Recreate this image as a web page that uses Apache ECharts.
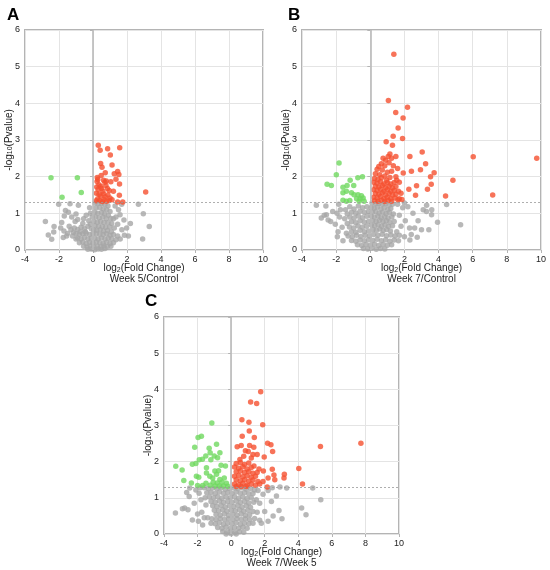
<!DOCTYPE html>
<html>
<head>
<meta charset="utf-8">
<title>Volcano plots</title>
<script src="https://cdn.jsdelivr.net/npm/echarts@6/dist/echarts.min.js"></script>
<style>
	html, body { margin: 0; padding: 0; background: #fff; }
	#chart { width: 550px; height: 570px; }
</style>
</head>
<body>
<div id="chart"></div>
<script>
	// 坐标轴刻度
	var xTicks = [-4, -2, 0, 2, 4, 6, 8, 10];
	var yTicks = [0, 1, 2, 3, 4, 5, 6];
	var pCut = 1.3;   // -log10(0.05)
	var panelLetters = ['A', 'B', 'C'];
	var panelCompare = ['Week 5/Control', 'Week 7/Control', 'Week 7/Week 5'];

	// A: Week 5/Control
	var upA = [[0.31,2.86],[0.42,2.72],[0.86,2.76],[1.57,2.79],[1.02,2.59],[0.45,2.36],[0.53,2.26],[1.12,2.32],
		[0.25,1.98],[0.28,1.92],[0.48,2.03],[0.72,2.11],[1.25,2.08],[1.45,2.14],[1.52,2.06],
		[0.24,1.87],[0.35,1.78],[0.46,1.74],[0.62,1.9],[0.7,1.85],[0.78,1.88],[1.05,1.86],[1.35,1.93],[1.56,1.8],
		[0.22,1.72],[0.3,1.65],[0.5,1.68],[0.58,1.6],[0.76,1.76],[0.85,1.68],[0.95,1.62],[1.2,1.6],
		[0.2,1.55],[0.36,1.52],[0.45,1.47],[0.62,1.53],[0.72,1.45],[0.88,1.5],[1.0,1.42],[1.55,1.49],
		[0.18,1.34],[0.28,1.4],[0.4,1.35],[0.55,1.32],[0.65,1.38],[0.8,1.33],[0.95,1.35],[1.12,1.37],[1.45,1.31],[1.75,1.31],[3.1,1.58]];
	var downA = [[-2.47,1.97],[-0.92,1.97],[-0.69,1.57],[-1.82,1.44]];
	var nsA = [[0.12,1.28],[0.3,1.27],[0.5,1.26],[0.7,1.24],[0.88,1.2],
		[0.18,1.15],[0.4,1.16],[0.6,1.12],[0.8,1.1],[1.0,1.05],
		[0.1,1.03],[0.28,1.0],[0.5,1.02],[0.68,0.98],[0.9,0.95],
		[0.15,0.9],[0.36,0.88],[0.58,0.9],[0.78,0.85],[1.05,0.86],
		[0.05,0.78],[0.25,0.76],[0.45,0.78],[0.65,0.75],[0.88,0.74],[1.1,0.72],
		[0.12,0.66],[0.33,0.65],[0.55,0.64],[0.75,0.62],[0.98,0.63],[1.25,0.6],
		[-0.1,0.58],[0.05,0.55],[0.22,0.54],[0.42,0.55],[0.62,0.52],[0.85,0.53],[1.08,0.5],
		[-1.0,0.45],[-0.8,0.42],[-0.6,0.44],[-0.4,0.46],[-0.2,0.42],[0.0,0.45],[0.2,0.44],[0.4,0.43],[0.6,0.42],[0.8,0.44],[1.0,0.4],[1.2,0.42],[1.45,0.38],
		[-0.9,0.33],[-0.7,0.3],[-0.5,0.34],[-0.3,0.3],[-0.1,0.33],[0.1,0.32],[0.3,0.3],[0.5,0.33],[0.7,0.3],[0.9,0.32],[1.1,0.3],[1.35,0.28],[1.6,0.3],
		[-0.8,0.2],[-0.6,0.22],[-0.4,0.18],[-0.2,0.21],[0.0,0.19],[0.2,0.22],[0.4,0.2],[0.6,0.18],[0.8,0.21],[1.0,0.18],[1.2,0.2],
		[-0.55,0.1],[-0.35,0.08],[-0.15,0.11],[0.05,0.09],[0.25,0.1],[0.45,0.08],[0.65,0.11],[0.85,0.09],[1.05,0.1],
		[-0.3,0.02],[-0.1,0.03],[0.1,0.01],[0.3,0.03],[0.5,0.02],[0.7,0.04],
		[-1.3,0.55],[-1.1,0.6],[-0.9,0.56],[-0.7,0.62],[-0.5,0.58],[-0.3,0.65],[-1.5,0.45],[-1.2,0.38],[-0.6,0.72],[-0.25,0.8],[-0.4,0.95],[-0.15,1.0],[-1.05,0.78],[-1.4,0.65],[-1.25,0.9],[-0.9,0.83],
		[-0.15,0.7],[-0.45,0.5],[-0.75,0.5],[-1.0,0.3],[-0.05,0.9],[-0.2,1.15],[-0.55,0.85],[-1.15,0.48],
		[-2.8,0.78],[-2.63,0.41],[-2.43,0.29],[-2.31,0.49],[-2.29,0.64],[-2.02,1.25],[-1.84,0.75],[-1.69,0.93],[-1.62,1.08],[-1.35,1.26],[-1.45,1.03],[-0.86,1.22],[-1.0,0.98],[-1.75,0.34],[-1.71,0.52],[-1.55,0.38],[-1.9,0.6],
		[2.67,1.25],[2.96,0.99],[3.31,0.64],[2.92,0.3],[2.08,0.38],[1.98,0.6],[1.82,0.82],[1.59,0.96],[1.69,1.25],[1.5,1.1],[1.35,0.9],[1.45,0.7],[1.7,0.55],[1.3,1.2],[2.2,0.72],[1.85,0.4],[1.2,0.85]];

	// B: Week 7/Control
	var upB = [[1.38,5.34],[1.06,4.08],[2.18,3.89],[1.49,3.75],[1.92,3.6],[1.63,3.33],[1.34,3.1],[1.89,3.04],[0.93,2.95],[1.3,2.86],
		[3.04,2.67],[2.32,2.55],[6.03,2.54],[9.75,2.5],[3.24,2.35],[2.41,2.15],[2.94,2.19],[3.74,2.11],[3.53,2.0],[1.93,2.1],
		[4.84,1.9],[3.57,1.79],[2.71,1.75],[2.26,1.66],[3.35,1.66],[2.65,1.49],[4.41,1.47],[7.17,1.5],[1.8,1.55],[1.7,1.4],[1.62,1.37],[1.85,1.38],
		[1.15,2.62],[1.05,2.55],[0.75,2.5],[0.9,2.45],[1.25,2.5],[1.5,2.55],[0.65,2.35],[0.85,2.3],[1.1,2.38],[1.35,2.3],[0.5,2.28],[0.4,2.2],
		[0.7,2.18],[1.0,2.12],[1.25,2.15],[1.6,2.22],[0.3,2.08],[0.55,2.05],[0.85,2.02],[1.5,2.0],[1.15,1.98],[1.7,1.85],[1.55,1.9],
		[0.25,1.95],[0.45,1.92],[0.65,1.97],[0.95,1.9],
		[0.2,1.85],[0.4,1.82],[0.6,1.86],[0.8,1.8],[1.0,1.84],[1.2,1.8],[1.4,1.84],
		[0.3,1.74],[0.5,1.72],[0.7,1.76],[0.9,1.7],[1.1,1.74],[1.3,1.7],[1.5,1.73],
		[0.2,1.64],[0.4,1.62],[0.6,1.66],[0.8,1.6],[1.0,1.64],[1.2,1.6],[1.4,1.62],[1.65,1.6],
		[0.3,1.54],[0.5,1.52],[0.7,1.56],[0.9,1.5],[1.1,1.54],[1.3,1.5],[1.5,1.52],
		[0.2,1.44],[0.4,1.42],[0.6,1.46],[0.8,1.4],[1.0,1.44],[1.2,1.4],[1.45,1.42],
		[0.25,1.34],[0.45,1.33],[0.65,1.36],[0.85,1.32],[1.05,1.35],[1.25,1.33]];
	var downB = [[-1.83,2.37],[-2.53,1.79],[-2.28,1.76],[-1.99,2.05],[-1.6,1.71],[-1.36,1.76],[-1.18,1.9],[-0.97,1.76],[-0.73,1.97],[-0.46,2.0],
		[-1.6,1.56],[-1.4,1.6],[-1.1,1.56],[-0.95,1.51],[-0.72,1.51],[-0.52,1.48],[-0.6,1.4],[-0.42,1.42],[-1.6,1.36],[-1.4,1.33],[-1.2,1.35],[-0.36,1.33],[-0.8,1.4],[-0.65,1.33]];
	var nsB = [[0.1,1.28],[0.3,1.26],[0.5,1.27],[0.7,1.25],[0.9,1.26],[1.1,1.22],[1.3,1.25],
		[0.05,1.16],[0.22,1.14],[0.42,1.17],[0.62,1.12],[0.82,1.15],[1.02,1.1],[1.2,1.13],
		[0.12,1.03],[0.32,1.05],[0.52,1.0],[0.72,1.03],[0.92,0.99],[1.12,1.02],[1.35,0.98],
		[0.05,0.92],[0.24,0.9],[0.44,0.93],[0.64,0.88],[0.84,0.91],[1.04,0.87],[1.26,0.9],
		[0.14,0.8],[0.34,0.78],[0.54,0.81],[0.74,0.77],[0.94,0.8],[1.14,0.76],[1.4,0.78],
		[0.06,0.68],[0.26,0.66],[0.46,0.69],[0.66,0.65],[0.86,0.68],[1.06,0.64],[1.3,0.66],
		[0.16,0.56],[0.36,0.54],[0.56,0.57],[0.76,0.53],[0.96,0.56],[1.18,0.52],
		[-0.2,1.18],[-0.45,1.15],[-0.7,1.2],[-0.95,1.12],[-1.2,1.18],[-1.45,1.1],
		[-0.1,1.05],[-0.35,1.02],[-0.6,1.06],[-0.85,1.0],[-1.1,1.03],[-1.35,0.98],
		[-0.2,0.92],[-0.45,0.88],[-0.7,0.93],[-0.95,0.87],[-1.2,0.9],[-1.5,0.85],
		[-0.1,0.78],[-0.35,0.76],[-0.6,0.8],[-0.85,0.74],[-1.1,0.77],[-1.35,0.72],
		[-0.22,0.65],[-0.47,0.62],[-0.72,0.66],[-0.97,0.6],[-1.22,0.63],
		[-0.1,0.52],[-0.35,0.5],[-0.6,0.54],[-0.85,0.48],[-1.1,0.5],[-1.4,0.46],
		[-1.3,0.38],[-1.05,0.36],[-0.8,0.4],[-0.55,0.37],[-0.3,0.4],[-0.05,0.38],[0.2,0.42],[0.45,0.4],[0.7,0.43],[0.95,0.39],[1.2,0.41],[1.45,0.38],[1.7,0.4],[2.0,0.36],
		[-1.1,0.26],[-0.85,0.24],[-0.6,0.27],[-0.35,0.25],[-0.1,0.28],[0.15,0.26],[0.4,0.29],[0.65,0.25],[0.9,0.28],[1.15,0.24],[1.4,0.27],[1.65,0.25],
		[-0.75,0.14],[-0.5,0.12],[-0.25,0.15],[0.0,0.13],[0.25,0.16],[0.5,0.12],[0.75,0.15],[1.0,0.13],[1.25,0.14],
		[-0.4,0.04],[-0.15,0.03],[0.1,0.05],[0.35,0.02],[0.6,0.04],[0.85,0.03],
		[-3.16,1.22],[-2.87,0.87],[-2.57,0.96],[-2.47,0.82],[-2.32,0.78],[-2.6,1.2],[-1.89,0.5],[-1.93,0.36],[-2.05,0.7],[-1.8,0.9],[-1.75,1.1],[-1.65,0.62],[-2.2,1.05],[-1.6,0.25],[-1.85,1.25],[-1.95,1.0],[-2.7,0.95],
		[4.47,1.24],[5.29,0.69],[3.94,0.76],[3.59,0.96],[3.29,1.05],[3.43,0.55],[3.0,0.55],[2.32,0.27],[2.4,0.42],[2.6,0.6],[2.8,0.8],[3.1,1.1],[2.5,1.0],[2.2,1.18],[1.9,1.15],[1.7,0.95],[2.05,0.8],[1.8,0.65],[2.3,0.6],[1.6,1.25],[1.55,0.5],[2.75,0.35],[3.3,1.22],[2.0,1.28],[3.6,1.1]];

	// C: Week 7/Week 5
	var upC = [[1.76,3.93],[1.16,3.65],[1.52,3.61],[0.64,3.16],[1.06,3.09],[1.88,3.02],[1.08,2.85],[1.38,2.67],[0.66,2.7],[2.17,2.51],[2.37,2.47],
		[5.32,2.42],[7.73,2.51],[2.47,2.28],[1.02,2.28],[0.36,2.41],[0.6,2.45],[1.97,2.13],[0.52,2.06],[1.36,1.88],[3.17,1.65],[4.03,1.81],
		[2.55,1.63],[2.45,1.79],[1.92,1.74],[1.66,1.8],[4.25,1.38],[2.15,1.3],[2.6,1.5],[1.9,1.45],[2.2,1.55],[3.15,1.55],[1.3,2.2],[1.2,2.1],
		[0.85,2.3],[0.75,2.15],[1.35,2.4],[1.1,2.45],[1.55,2.2],
		[0.3,1.95],[0.55,1.98],[0.8,1.92],[1.05,1.96],
		[0.2,1.85],[0.45,1.82],[0.7,1.86],[0.95,1.8],[1.2,1.84],
		[0.3,1.72],[0.55,1.74],[0.8,1.7],[1.05,1.72],[1.3,1.68],[1.55,1.7],
		[0.2,1.6],[0.45,1.62],[0.7,1.58],[0.95,1.61],[1.2,1.57],[1.45,1.6],
		[0.3,1.5],[0.55,1.47],[0.8,1.5],[1.05,1.46],[1.3,1.49],[1.6,1.45],
		[0.2,1.38],[0.45,1.36],[0.7,1.4],[0.95,1.35],[1.2,1.38],[1.45,1.35],[1.7,1.38],
		[0.3,1.31],[0.6,1.31],[0.9,1.31]];
	var downC = [[-1.15,3.07],[-1.77,2.7],[-1.97,2.67],[-2.17,2.4],[-0.87,2.48],[-1.31,2.37],[-3.3,1.87],[-2.92,1.77],[-2.82,1.48],[-2.37,1.41],
		[-2.31,1.93],[-2.07,1.6],[-1.93,1.57],[-1.71,2.07],[-1.51,2.16],[-1.25,2.25],[-1.21,2.05],[-1.01,2.16],[-0.81,2.11],[-0.67,2.25],
		[-0.34,1.88],[-0.6,1.9],[-1.47,1.83],[-1.47,1.69],[-1.27,1.6],[-0.97,1.74],[-0.87,1.65],[-0.67,1.51],[-0.41,1.55],[-1.07,1.43],
		[-0.83,1.41],[-0.55,1.43],[-0.28,1.4],[-1.5,1.4],[-1.25,1.35],[-2.0,1.34],[-1.7,1.34],[-0.95,1.33],[-0.7,1.33],[-0.45,1.33],
		[-0.2,1.32],[-1.1,1.55],[-0.75,1.75],[-2.1,1.95],[-1.9,2.05]];
	var nsC = [[-1.6,1.28],[-1.35,1.26],[-1.1,1.27],[-0.85,1.25],[-0.6,1.28],[-0.35,1.24],[-0.1,1.26],[0.15,1.27],[0.4,1.25],[0.65,1.28],[0.9,1.24],[1.15,1.26],[1.4,1.22],
		[-1.45,1.14],[-1.2,1.15],[-0.95,1.12],[-0.7,1.16],[-0.45,1.13],[-0.2,1.15],[0.05,1.12],[0.3,1.16],[0.55,1.13],[0.8,1.15],[1.05,1.11],[1.3,1.12],
		[-1.3,1.02],[-1.05,1.0],[-0.8,1.03],[-0.55,0.99],[-0.3,1.02],[-0.05,1.0],[0.2,1.03],[0.45,0.99],[0.7,1.02],[0.95,0.98],[1.2,1.0],
		[-1.2,0.9],[-0.95,0.88],[-0.7,0.91],[-0.45,0.87],[-0.2,0.9],[0.05,0.88],[0.3,0.91],[0.55,0.87],[0.8,0.9],[1.05,0.86],[1.35,0.88],
		[-1.1,0.78],[-0.85,0.76],[-0.6,0.79],[-0.35,0.75],[-0.1,0.78],[0.15,0.76],[0.4,0.79],[0.65,0.75],[0.9,0.78],[1.15,0.74],
		[-1.0,0.66],[-0.75,0.64],[-0.5,0.67],[-0.25,0.63],[0.0,0.66],[0.25,0.64],[0.5,0.67],[0.75,0.63],[1.0,0.66],[1.3,0.62],
		[-0.9,0.54],[-0.65,0.52],[-0.4,0.55],[-0.15,0.51],[0.1,0.54],[0.35,0.52],[0.6,0.55],[0.85,0.51],[1.1,0.53],
		[-1.4,0.45],[-1.15,0.42],[-0.9,0.4],[-0.65,0.43],[-0.4,0.4],[-0.15,0.42],[0.1,0.4],[0.35,0.43],[0.6,0.4],[0.85,0.42],[1.1,0.4],[1.4,0.43],[1.7,0.38],
		[-1.2,0.3],[-0.95,0.28],[-0.7,0.31],[-0.45,0.27],[-0.2,0.3],[0.05,0.28],[0.3,0.31],[0.55,0.27],[0.8,0.3],[1.05,0.28],[1.3,0.3],
		[-0.8,0.18],[-0.55,0.16],[-0.3,0.19],[-0.05,0.15],[0.2,0.18],[0.45,0.16],[0.7,0.19],[0.95,0.16],
		[-0.5,0.07],[-0.25,0.05],[0.0,0.08],[0.25,0.04],[0.5,0.06],[0.75,0.05],
		[-0.3,0.0],[0.0,0.01],[0.3,0.0],
		[-3.32,0.58],[-2.77,0.72],[-2.57,0.67],[-2.31,0.39],[-2.5,1.04],[-2.47,1.27],[-1.91,1.13],[-2.0,0.55],[-2.2,0.85],[-1.8,0.95],
		[-1.75,0.6],[-2.1,1.22],[-1.6,0.45],[-1.5,0.8],[-1.85,1.28],[-2.65,1.15],[-1.55,1.0],[-1.95,0.35],[-1.7,0.25],[-2.9,0.7],
		[4.86,1.27],[5.34,0.95],[4.2,0.72],[4.46,0.53],[3.31,1.27],[2.91,1.3],[2.85,0.65],[3.03,0.42],[2.4,0.9],[2.2,1.2],
		[1.9,1.1],[1.7,0.85],[2.0,0.62],[2.5,0.5],[1.6,1.2],[2.7,1.05],[1.55,0.6],[2.2,0.35],[1.8,0.3],[1.5,0.95],[2.45,1.28]];

	var nsAll = [nsA, nsB, nsC];
	var upAll = [upA, upB, upC];
	var downAll = [downA, downB, downC];

	// 每个小图的位置
	var grids = [
		{left: 25, top: 30, width: 238, height: 220},
		{left: 302, top: 30, width: 239, height: 220},
		{left: 164, top: 317, width: 235, height: 217}
	];
	var letterPos = [[7, 7], [288, 7], [145, 293]];

	var font = 'Arial, "Liberation Sans", sans-serif';
	var frameColor = '#b4b4b4';

	var option = {
		backgroundColor: '#fff',
		animation: false,
		textStyle: {fontFamily: font},
		title: [],
		grid: [],
		xAxis: [],
		yAxis: [],
		series: []
	};

	for (var i = 0; i < 3; i++) {
		option.title.push({
			text: panelLetters[i], left: letterPos[i][0], top: letterPos[i][1], padding: 0,
			textStyle: {fontSize: 17, fontWeight: 'bold', color: '#000', fontFamily: font}
		});
		var g = grids[i];
		option.grid.push({
			left: g.left, top: g.top, width: g.width, height: g.height,
			show: true, borderColor: frameColor, borderWidth: 2, backgroundColor: '#fff'
		});
		option.xAxis.push({
			gridIndex: i, type: 'value', min: xTicks[0], max: xTicks[xTicks.length - 1], interval: 2,
			axisLine: {show: false}, axisTick: {show: true, length: 3, lineStyle: {color: frameColor}},
			axisLabel: {fontSize: 9, color: '#222', margin: 5, fontFamily: font},
			splitLine: {show: true, lineStyle: {color: '#e4e4e4', width: 1}},
			name: '{n|log}{s|2}{n|(Fold Change)}\n{n|' + panelCompare[i] + '}',
			nameLocation: 'middle', nameGap: 13, nameMoveOverlap: false,
			nameTextStyle: {
				fontFamily: font, color: '#222', lineHeight: 11,
				rich: {
					n: {fontSize: 10, color: '#222', fontFamily: font, lineHeight: 11},
					s: {fontSize: 7, color: '#222', fontFamily: font, verticalAlign: 'bottom', lineHeight: 9}
				}
			}
		});
		option.yAxis.push({
			gridIndex: i, type: 'value', min: yTicks[0], max: yTicks[yTicks.length - 1], interval: 1,
			axisLine: {show: false}, axisTick: {show: true, length: 3, lineStyle: {color: frameColor}},
			axisLabel: {fontSize: 9, color: '#222', margin: 5, fontFamily: font},
			splitLine: {show: true, lineStyle: {color: '#e4e4e4', width: 1}},
			name: '{n|-log}{s|10}{n|(Pvalue)}',
			nameLocation: 'middle', nameGap: 11, nameRotate: 90, nameMoveOverlap: false,
			nameTextStyle: {
				fontFamily: font, color: '#222',
				rich: {
					n: {fontSize: 10, color: '#222', fontFamily: font},
					s: {fontSize: 7, color: '#222', fontFamily: font, verticalAlign: 'bottom'}
				}
			}
		});

		// 参考线（x=0, p=0.05），放在点的下面
		option.series.push({
			type: 'scatter', xAxisIndex: i, yAxisIndex: i, z: 1, data: [],
			markLine: {
				silent: true, symbol: 'none', label: {show: false},
				data: [
					{xAxis: 0, lineStyle: {color: '#b9b9b9', width: 1.6, type: 'solid'}},
					{yAxis: pCut, lineStyle: {color: '#9a9a9a', width: 0.8, type: [2, 2]}}
				]
			}
		});
		// 不显著
		option.series.push({
			type: 'scatter', xAxisIndex: i, yAxisIndex: i, z: 2, symbolSize: 5.5,
			itemStyle: {color: '#a6a6a6'},
			data: nsAll[i]
		});
		// 下调
		option.series.push({
			type: 'scatter', xAxisIndex: i, yAxisIndex: i, z: 3, symbolSize: 5.5,
			itemStyle: {color: '#6fd85f'},
			data: downAll[i]
		});
		// 上调
		option.series.push({
			type: 'scatter', xAxisIndex: i, yAxisIndex: i, z: 3, symbolSize: 5.5,
			itemStyle: {color: '#f5502f'},
			data: upAll[i]
		});
	}

	var chart = echarts.init(document.getElementById('chart'), null, {renderer: 'canvas'});
	chart.setOption(option);
</script>
</body>
</html>
